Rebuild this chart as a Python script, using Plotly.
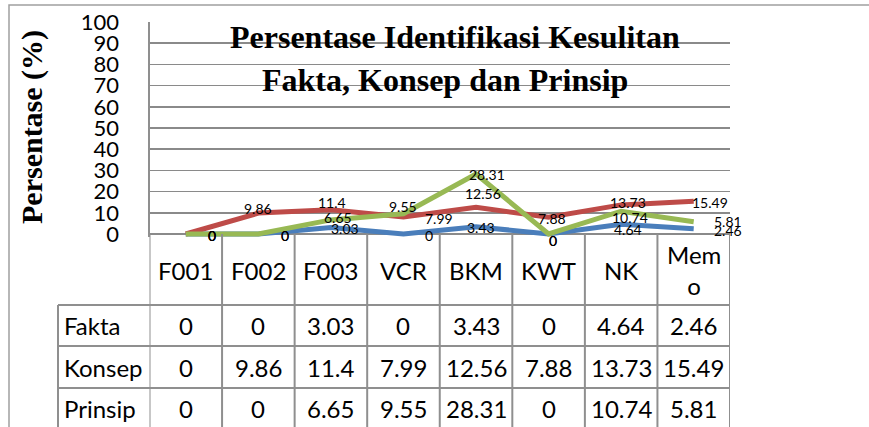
import plotly.graph_objects as go

# ---- data ----
categories = ["F001", "F002", "F003", "VCR", "BKM", "KWT", "NK", "Memo"]
header_labels = ["F001", "F002", "F003", "VCR", "BKM", "KWT", "NK", "Mem<br>o"]
series_names = ["Fakta", "Konsep", "Prinsip"]
fakta = [0, 0, 3.03, 0, 3.43, 0, 4.64, 2.46]
konsep = [0, 9.86, 11.4, 7.99, 12.56, 7.88, 13.73, 15.49]
prinsip = [0, 0, 6.65, 9.55, 28.31, 0, 10.74, 5.81]
y_ticks = [0, 10, 20, 30, 40, 50, 60, 70, 80, 90, 100]

title_lines = ["Persentase Identifikasi Kesulitan", "Fakta, Konsep dan Prinsip"]
y_title = "Persentase (%)"

# ---- styles ----
W, H = 869, 427
colors = ["#4A7EBB", "#BE4B48", "#98B954"]
label_shift_x = [
    [26, 27, 14, 26, 5, 4, 7, 34],
    [26, 0, 1, 36, 7, 3, 7, 16],
    [26, 27, 7, 0, 11, 4, 9, 34],
]
label_shift_y = [
    [-1, -1, -1, -1, -1, -6, -5, -2],
    [-1, 5, 7, -1, 14, -1, 2, -1],
    [-1, -1, 2, 7, -1, -6, -6, 0],
]

SANS = "Lato, 'Open Sans', sans-serif"
SERIF = "'Liberation Serif', 'Times New Roman', serif"
GRID = "#8a8a8a"
TABLE = "#8f8f8f"


def px(xp):
    return xp / W


def py(yp):
    return 1 - yp / H


def fmt(v):
    return f"{v:g}"


plot_left, plot_right = 149.5, 730
y0_px, y100_px = 234, 22
ppu = (y0_px - y100_px) / 100.0
ymin = -1.5
bottom_px = y0_px - ymin * ppu

fig = go.Figure()
all_series = [fakta, konsep, prinsip]
for name, vals, col in zip(series_names, all_series, colors):
    fig.add_trace(go.Scatter(
        x=categories, y=vals, mode="lines", name=name,
        line=dict(color=col, width=5), showlegend=False, hoverinfo="skip",
    ))

annotations = []
# data labels
for si, vals in enumerate(all_series):
    for ci, v in enumerate(vals):
        annotations.append(dict(
            x=categories[ci], y=v, xref="x", yref="y", text=fmt(v),
            showarrow=False, xanchor="center", yanchor="middle",
            xshift=label_shift_x[si][ci], yshift=label_shift_y[si][ci],
            font=dict(family=SANS, size=14, color="black"),
        ))

# titles
annotations.append(dict(x=px(455), y=py(37.5), xref="paper", yref="paper",
                        text="<b>" + title_lines[0] + "</b>", showarrow=False,
                        xanchor="center", yanchor="middle",
                        font=dict(family=SERIF, size=32, color="black")))
annotations.append(dict(x=px(445), y=py(80), xref="paper", yref="paper",
                        text="<b>" + title_lines[1] + "</b>", showarrow=False,
                        xanchor="center", yanchor="middle",
                        font=dict(family=SERIF, size=32, color="black")))
annotations.append(dict(x=px(32), y=py(127), xref="paper", yref="paper",
                        text="<b>" + y_title + "</b>", showarrow=False, textangle=-90,
                        xanchor="center", yanchor="middle",
                        font=dict(family=SERIF, size=30, color="black")))

# table header
for ci, lab in enumerate(header_labels):
    annotations.append(dict(x=categories[ci], y=py(270), xref="x", yref="paper",
                            text=lab, showarrow=False, xanchor="center", yanchor="middle",
                            font=dict(family=SANS, size=24, color="black")))
row_centers = [325, 367, 408]
for ri, (name, vals) in enumerate(zip(series_names, all_series)):
    annotations.append(dict(x=px(62), y=py(row_centers[ri]), xref="paper", yref="paper",
                            text=name, showarrow=False, xanchor="left", yanchor="middle",
                            font=dict(family=SANS, size=24, color="black")))
    for ci, v in enumerate(vals):
        annotations.append(dict(x=categories[ci], y=py(row_centers[ri]), xref="x", yref="paper",
                                text=fmt(v), showarrow=False, xanchor="center", yanchor="middle",
                                font=dict(family=SANS, size=24, color="black")))

shapes = []
# outer chart border
shapes.append(dict(type="rect", xref="paper", yref="paper", x0=px(9), x1=1.02,
                   y0=-0.02, y1=py(5), line=dict(color="#a0a0a0", width=1.5)))
# table horizontals
for yy in [305, 346, 388]:
    shapes.append(dict(type="line", xref="paper", yref="paper", x0=px(58), x1=px(plot_right),
                       y0=py(yy), y1=py(yy), line=dict(color=TABLE, width=2)))
# table left edge
shapes.append(dict(type="line", xref="paper", yref="paper", x0=px(58), x1=px(58),
                   y0=py(305), y1=-0.02, line=dict(color=TABLE, width=2)))
# column verticals
for k in range(len(categories) + 1):
    shapes.append(dict(type="line", xref="x", yref="paper", x0=k - 0.5, x1=k - 0.5,
                       y0=py(y0_px), y1=-0.02, line=dict(color=TABLE, width=2)))

fig.update_layout(
    width=W, height=H,
    margin=dict(l=0, r=0, t=0, b=0, autoexpand=False),
    paper_bgcolor="white", plot_bgcolor="white",
    xaxis=dict(type="category", categoryorder="array", categoryarray=categories,
               range=[-0.5, len(categories) - 0.5],
               domain=[px(plot_left), px(plot_right)],
               showticklabels=False, showgrid=False, zeroline=False, showline=False,
               fixedrange=True, automargin=False),
    yaxis=dict(range=[ymin, 100], tickvals=y_ticks, ticktext=[str(t) for t in y_ticks],
               domain=[py(bottom_px), py(y100_px)],
               showgrid=True, gridcolor=GRID, gridwidth=1.6, zeroline=False,
               showline=True, linecolor=TABLE, linewidth=2,
               ticks="", ticklabelstandoff=24,
               tickfont=dict(family=SANS, size=22, color="black"),
               fixedrange=True, automargin=False),
    annotations=annotations,
    shapes=shapes,
    showlegend=False,
    hovermode=False,
)

fig.write_html("out.html", config={"displayModeBar": False, "staticPlot": True},
               post_script="document.body.style.margin='0px';")
